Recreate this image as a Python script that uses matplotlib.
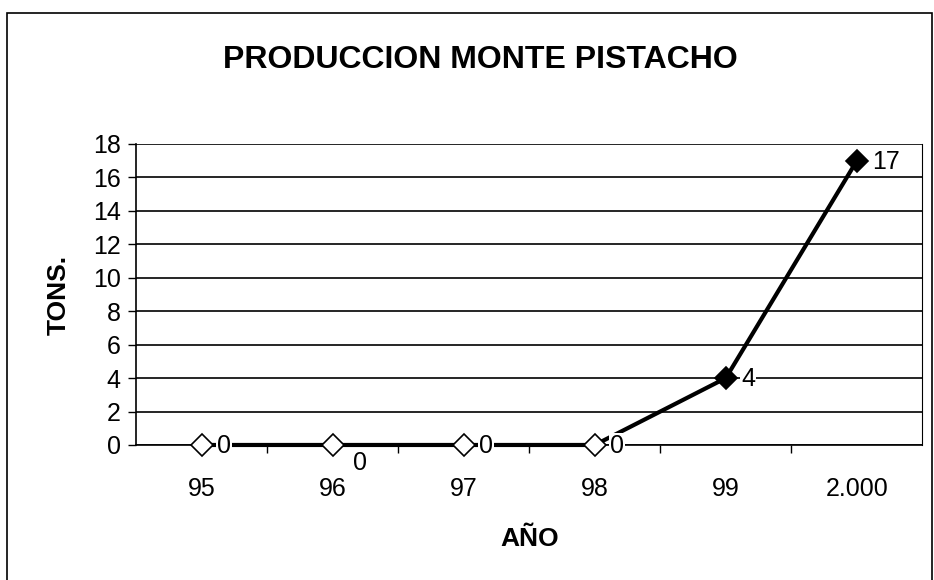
import matplotlib
matplotlib.use("Agg")
import matplotlib.pyplot as plt
from matplotlib.patches import Rectangle

plt.rcParams['font.family'] = ['Liberation Sans', 'DejaVu Sans']

years = ["95", "96", "97", "98", "99", "2.000"]
tons = [0, 0, 0, 0, 4, 17]
filled = [False, False, False, False, True, True]
label_below = [False, True, False, False, False, False]
yticks = list(range(0, 20, 2))

fig = plt.figure(figsize=(9.34, 5.8), dpi=100)
ax = fig.add_axes([0.1456, 0.2328, 0.842, 0.519])

x = list(range(len(years)))
ax.plot(x, tons, color='black', lw=3, zorder=3, clip_on=False)
for xi, yi, f in zip(x, tons, filled):
    ax.plot(xi, yi, marker='D', ms=11, mec='black', mew=1.2,
            mfc='black' if f else 'white', zorder=4, clip_on=False)

for xi, yi, below in zip(x, tons, label_below):
    if below:
        ax.annotate(str(yi), (xi, yi), xytext=(15, -4), textcoords='offset points',
                    ha='left', va='top', fontsize=18, zorder=5)
    else:
        ax.annotate(str(yi), (xi, yi), xytext=(11, -1), textcoords='offset points',
                    ha='left', va='center', fontsize=18, zorder=5,
                    bbox=dict(boxstyle='square,pad=0.05', fc='white', ec='none'))

ax.set_xlim(-0.5, len(years) - 0.5)
ax.set_ylim(0, 18)
ax.set_yticks(yticks)
ax.set_yticklabels([str(v) for v in yticks], fontsize=18)
ax.set_xticks(x)
ax.set_xticklabels(years, fontsize=18)
ax.set_xticks([i + 0.5 for i in range(len(years) - 1)], minor=True)
ax.tick_params(axis='x', which='major', length=0, pad=23)
ax.tick_params(axis='x', which='minor', length=6, direction='out', width=1)
ax.tick_params(axis='y', length=6, direction='out', width=1, pad=5)
ax.yaxis.grid(True, color='black', lw=1.2)
ax.set_axisbelow(True)
ax.spines['top'].set_visible(False)
ax.spines['right'].set_linestyle((0, (1, 1)))
ax.spines['right'].set_linewidth(0.8)
ax.spines['left'].set_linewidth(1.2)
ax.spines['bottom'].set_linewidth(1.2)

ax.set_ylabel("TONS.", fontsize=19, fontweight='bold', labelpad=16)
ax.set_xlabel("AÑO", fontsize=19, fontweight='bold', labelpad=19)

fig.text(0.514, 0.897, "PRODUCCION MONTE PISTACHO", ha='center', va='center',
         fontsize=23, fontweight='bold')

fig.patches.append(Rectangle((0.007, -0.05), 0.991, 1.028, transform=fig.transFigure,
                             fill=False, ec='black', lw=1.2))

fig.savefig("out.png", dpi=100)
